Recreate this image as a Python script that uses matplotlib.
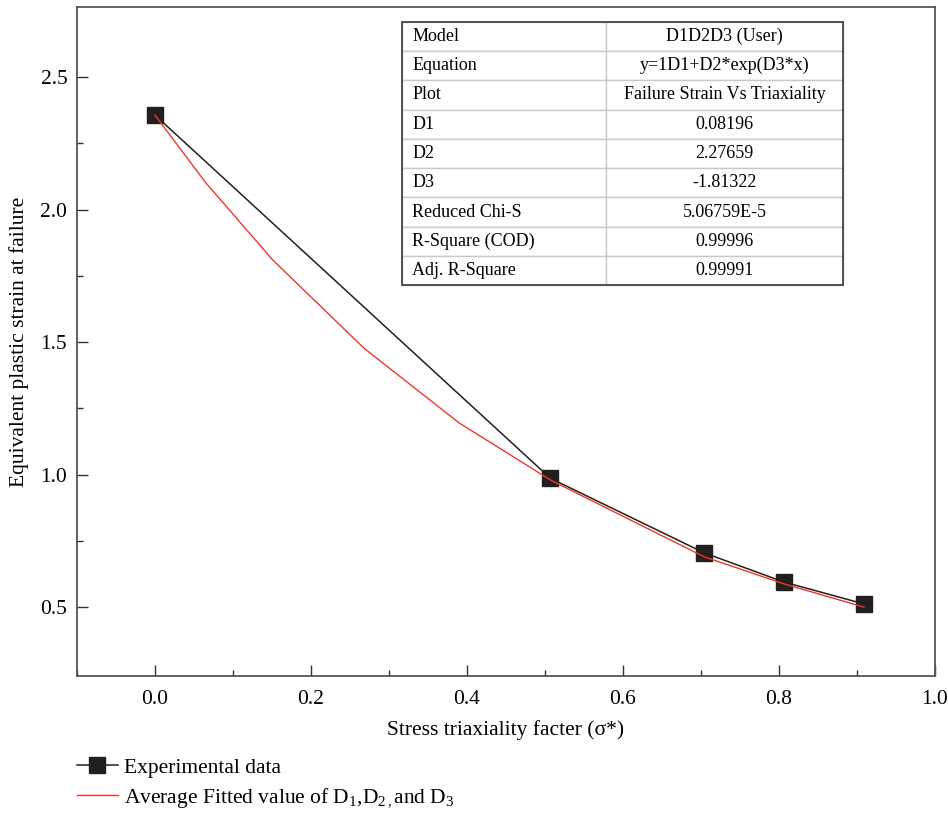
import matplotlib
matplotlib.use("Agg")
import matplotlib.pyplot as plt
from matplotlib.lines import Line2D
from matplotlib.patches import Rectangle

plt.rcParams['font.family'] = ['Liberation Serif', 'DejaVu Serif']
plt.rcParams['mathtext.fontset'] = 'custom'
plt.rcParams['mathtext.rm'] = 'Liberation Serif'
plt.rcParams['mathtext.it'] = 'Liberation Serif:italic'

# experimental points
exp_x = [0.0, 0.507, 0.704, 0.806, 0.909]
exp_y = [2.357, 0.986, 0.705, 0.595, 0.512]

# fitted curve as drawn (vertices)
fit_x = [0.0, 0.065, 0.151, 0.268, 0.390, 0.508, 0.704, 0.806, 0.909]
fit_y = [2.357, 2.102, 1.810, 1.477, 1.195, 0.978, 0.690, 0.588, 0.500]

table_rows = [
    ["Model", "D1D2D3 (User)"],
    ["Equation", "y=1D1+D2*exp(D3*x)"],
    ["Plot", "Failure Strain Vs Triaxiality"],
    ["D1", "0.08196"],
    ["D2", "2.27659"],
    ["D3", "-1.81322"],
    ["Reduced Chi-S", "5.06759E-5"],
    ["R-Square (COD)", "0.99996"],
    ["Adj. R-Square", "0.99991"],
]

fig = plt.figure(figsize=(9.48, 8.13), dpi=100)
ax = fig.add_axes([0.0812, 0.1685, 0.9051, 0.8229])

ax.plot(exp_x, exp_y, color='#231f20', lw=1.1, marker='s', ms=12,
        mfc='#231f20', mec='#231f20', zorder=3)
ax.plot(fit_x, fit_y, color='#f0362b', lw=1.0, zorder=4)

ax.set_xlim(-0.1, 1.0)
ax.set_ylim(0.24, 2.765)
ax.set_xticks([0.0, 0.2, 0.4, 0.6, 0.8, 1.0])
ax.set_xticks([-0.1, 0.1, 0.3, 0.5, 0.7, 0.9], minor=True)
ax.set_yticks([0.5, 1.0, 1.5, 2.0, 2.5])
ax.set_yticks([0.75, 1.25, 1.75, 2.25], minor=True)
ax.tick_params(which='both', direction='in', top=False, right=False,
               color='#333333', width=1.0, labelsize=15.5)
ax.tick_params(which='major', length=8, pad=7)
ax.tick_params(axis='x', which='major', pad=10)
ax.tick_params(which='minor', length=4)
for sp in ax.spines.values():
    sp.set_color('#555555')
    sp.set_linewidth(1.3)

ax.set_xlabel("Stress triaxiality facter (σ*)", fontsize=15.5, labelpad=8)
ax.set_ylabel("Equivalent plastic strain at failure", fontsize=15.5, labelpad=8)

# parameter table
tb_box = [0.379, 0.584, 0.514, 0.394]
tbl = ax.table(cellText=table_rows, colWidths=[0.462, 0.538],
               bbox=tb_box, zorder=5)
tbl.auto_set_font_size(False)
for (r, c), cell in tbl.get_celld().items():
    cell.set_edgecolor('#c8c8c8')
    cell.set_linewidth(1.0)
    cell.set_facecolor('white')
    cell.get_text().set_fontsize(13)
    if c == 0:
        cell.get_text().set_ha('left')
        cell.PAD = 0.05
    else:
        cell.get_text().set_ha('center')
ax.add_patch(Rectangle((tb_box[0], tb_box[1]), tb_box[2], tb_box[3],
                       transform=ax.transAxes, fill=False,
                       edgecolor='#444444', lw=1.3, zorder=6))

handles = [
    Line2D([], [], color='#231f20', lw=1.1, marker='s', ms=12,
           mfc='#231f20', mec='#231f20'),
    Line2D([], [], color='#f0362b', lw=1.0),
]
labels = ["Experimental data",
          "Average Fitted value of D$_1$,D$_{2\\,,}$and D$_3$"]
fig.legend(handles, labels, loc='upper left', bbox_to_anchor=(0.081, 0.068),
           frameon=False, fontsize=15.5, handlelength=1.9, handletextpad=0.3,
           labelspacing=0.4, borderpad=0, borderaxespad=0)

fig.savefig("out.png", dpi=100)
